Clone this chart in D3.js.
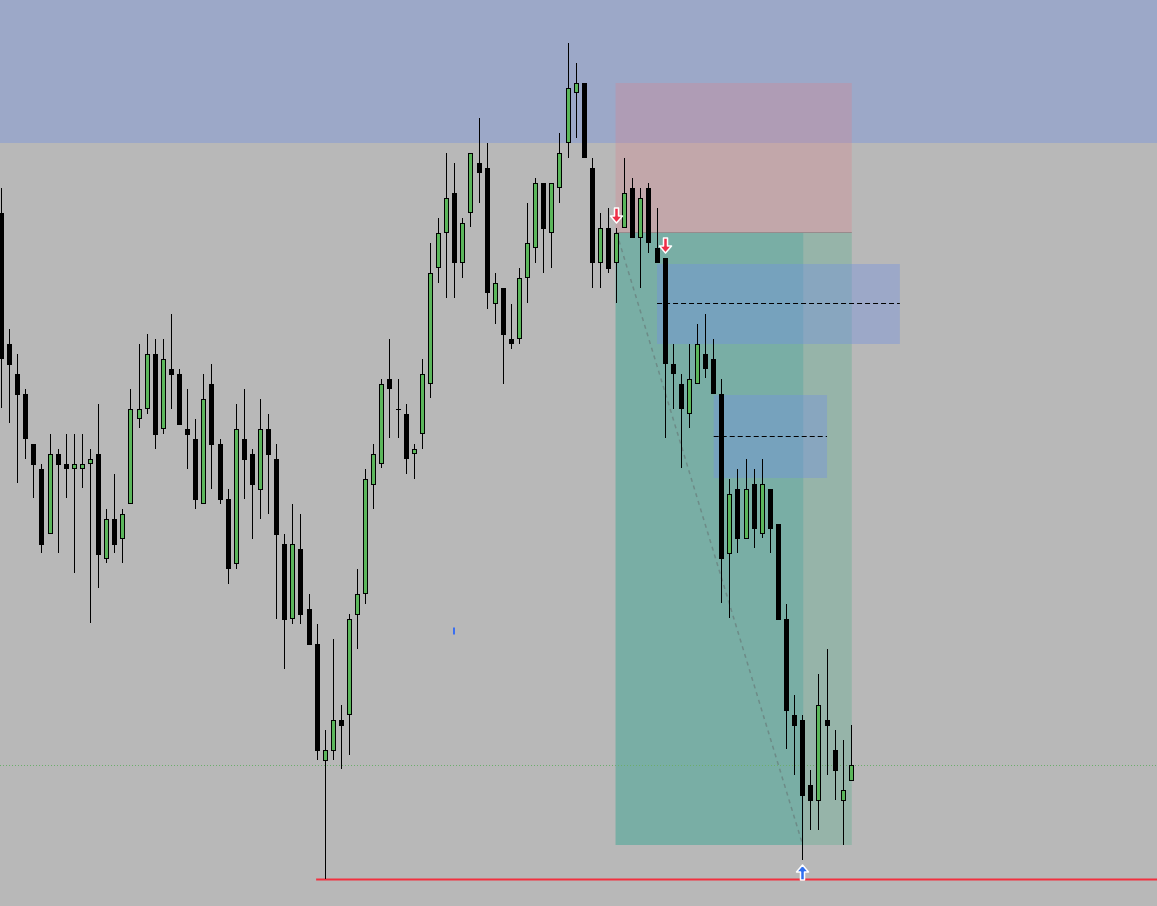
<!DOCTYPE html>
<html>
<head>
<meta charset="utf-8">
<script src="https://cdn.jsdelivr.net/npm/d3@7"></script>
<style>
  body { margin: 0; background: #b8b8b8; overflow: hidden; }
</style>
</head>
<body>
<div id="chart"><svg></svg></div>
<script>

// candle prices (arbitrary points)
var opens = [787,656,626,606,556,531,466,546,536,531,531,536,546,441,481,461,496,581,591,646,
  571,631,626,571,561,496,616,556,501,436,561,546,510,571,541,456,381,451,391,356,
  239,249,280,285,385,406,515,536,621,591,586,546,566,616,732,767,807,737,787,837,
  832,696,712,661,661,722,752,817,767,812,857,907,917,832,737,772,737,772,812,762,
  812,752,742,636,616,586,616,646,641,606,446,511,461,516,466,511,476,381,285,280,
  215,199,280,250,199,219];
var highs = [812,671,646,611,556,536,566,551,566,566,566,551,596,491,526,491,611,656,666,661,
  661,686,631,611,581,626,636,561,511,596,611,551,601,586,556,466,496,486,406,376,
  270,361,295,386,431,531,556,621,661,621,596,556,641,757,782,847,837,782,847,882,
  857,727,712,696,732,797,822,817,817,867,957,937,917,842,787,792,772,842,822,812,
  817,792,742,656,626,656,676,686,661,621,521,531,541,531,541,511,476,396,305,285,
  230,326,351,270,260,275];
var lows = [592,577,517,541,502,447,466,447,502,427,512,377,412,437,447,437,496,572,586,551,
  566,591,575,531,491,496,511,496,416,431,501,461,481,486,381,331,376,376,355,240,
  121,240,231,245,351,396,491,532,562,562,526,521,551,602,717,702,702,722,773,797,
  691,676,616,651,656,697,737,727,732,797,842,862,842,712,712,727,697,772,762,712,
  747,737,562,591,532,572,616,622,606,397,382,447,461,452,462,447,380,251,225,140,
  170,170,225,200,155,219];
var closes = [641,635,605,561,535,455,546,535,531,536,536,541,445,481,455,486,591,591,646,565,
  641,625,575,565,500,601,555,500,431,571,540,515,571,545,465,380,456,385,355,249,
  250,280,274,381,406,521,546,616,611,591,541,551,626,727,767,802,737,777,847,827,
  707,717,665,656,722,757,817,771,817,847,912,917,842,737,772,731,767,807,762,802,
  757,737,636,626,591,621,656,631,606,441,506,461,511,471,516,471,380,289,274,204,
  199,295,274,229,210,235];

// trade overlay levels (same price points) and bar indexes
var upperZone = [857, 1000];
var stopZone = { from: 76, to: 105, top: 917, bottom: 767 };
var targetZone = { from: 76, to: 105, top: 767, bottom: 155 };
var targetRun = { from: 99, to: 105 };
var gapZones = [
  { from: 81, to: 111, top: 736, bottom: 656, mid: 697 },
  { from: 88, to: 102, top: 605, bottom: 522, mid: 564 }
];
var tradePath = [[76, 767], [99, 155]];
var lastPrice = 235;
var lowLine = { from: 39, price: 121 };
var sellSignals = [76, 82];
var buySignals = [99];
var blueMark = { bar: 56, price: 369 };

var width = 1157,
  height = 906,
  greenFill = "#5bb65b";

var data = opens.map(function(o, i) {
  return { i: i, open: o, high: highs[i], low: lows[i], close: closes[i] };
});

var x = d3.scaleLinear().domain([0, 105]).range([1.5, 851.3]);
var y = d3.scaleLinear().domain([94, 1000]).range([height, 0]);

var svg = d3.select("#chart svg").attr("width", width).attr("height", height);

svg.append("rect")
  .attr("width", width).attr("height", height)
  .attr("fill", "#b8b8b8");

// upper supply band
svg.append("rect")
  .attr("x", 0).attr("y", y(upperZone[1]))
  .attr("width", width).attr("height", y(upperZone[0]) - y(upperZone[1]))
  .attr("fill", "#9ca8c8");

// position boxes
svg.append("rect")
  .attr("x", x(stopZone.from) - 1).attr("y", y(stopZone.top))
  .attr("width", x(stopZone.to) - x(stopZone.from) + 1.5)
  .attr("height", y(stopZone.bottom) - y(stopZone.top))
  .attr("fill", "rgba(220,130,140,0.3)");

svg.append("rect")
  .attr("x", x(targetZone.from) - 1).attr("y", y(targetZone.top))
  .attr("width", x(targetZone.to) - x(targetZone.from) + 1.5)
  .attr("height", y(targetZone.bottom) - y(targetZone.top))
  .attr("fill", "rgba(74,171,137,0.3)");

svg.append("rect")
  .attr("x", x(targetZone.from) - 1).attr("y", y(targetZone.top))
  .attr("width", x(targetRun.from) - x(targetZone.from) + 1.5)
  .attr("height", y(targetZone.bottom) - y(targetZone.top))
  .attr("fill", "rgba(68,163,159,0.35)");

svg.append("line")
  .attr("x1", x(stopZone.from) - 1).attr("x2", x(stopZone.to) + 0.5)
  .attr("y1", y(stopZone.bottom) - 0.5).attr("y2", y(stopZone.bottom) - 0.5)
  .attr("stroke", "rgba(110,110,110,0.5)");

// blue imbalance zones
gapZones.forEach(function(z) {
  svg.append("rect")
    .attr("x", x(z.from)).attr("y", y(z.top))
    .attr("width", x(z.to) - x(z.from))
    .attr("height", y(z.bottom) - y(z.top))
    .attr("fill", "rgba(114,144,224,0.4)");
  svg.append("line")
    .attr("x1", x(z.from)).attr("x2", x(z.to))
    .attr("y1", Math.round(y(z.mid)) + 0.5).attr("y2", Math.round(y(z.mid)) + 0.5)
    .attr("stroke", "#000").attr("stroke-dasharray", "5,3");
});

// trade line
svg.append("line")
  .attr("x1", x(tradePath[0][0])).attr("y1", y(tradePath[0][1]))
  .attr("x2", x(tradePath[1][0])).attr("y2", y(tradePath[1][1]))
  .attr("stroke", "rgba(100,112,112,0.55)")
  .attr("stroke-width", 1.5)
  .attr("stroke-dasharray", "4,4");

// last price dotted line
svg.append("line")
  .attr("x1", 0).attr("x2", width)
  .attr("y1", Math.round(y(lastPrice)) + 0.5).attr("y2", Math.round(y(lastPrice)) + 0.5)
  .attr("stroke", "#6cae6c").attr("stroke-dasharray", "1,2");

// low line
svg.append("line")
  .attr("x1", x(lowLine.from) - 1).attr("x2", width)
  .attr("y1", y(lowLine.price) + 0.5).attr("y2", y(lowLine.price) + 0.5)
  .attr("stroke", "#f2303f").attr("stroke-width", 2);

// candles
var candle = svg.selectAll("g.candle")
  .data(data)
  .enter()
  .append("g")
  .attr("class", "candle");

function px(d) {
  return Math.floor(x(d.i));
}

candle.append("line")
  .attr("x1", function(d) { return px(d) + 0.5; })
  .attr("x2", function(d) { return px(d) + 0.5; })
  .attr("y1", function(d) { return y(d.high); })
  .attr("y2", function(d) { return y(d.low); })
  .attr("stroke", "#000");

candle.append("rect")
  .attr("x", function(d) { return d.close > d.open ? px(d) - 1.5 : px(d) - 2; })
  .attr("width", function(d) { return d.close > d.open ? 4 : 5; })
  .attr("y", function(d) {
    var t = y(Math.max(d.open, d.close));
    return d.close > d.open ? t + 0.5 : t;
  })
  .attr("height", function(d) {
    var h = Math.abs(y(d.open) - y(d.close));
    if (d.close > d.open) return Math.max(h - 1, 1);
    return Math.max(h, 1);
  })
  .attr("fill", function(d) { return d.close > d.open ? greenFill : "#000"; })
  .attr("stroke", function(d) { return d.close > d.open ? "#000" : "none"; })
  .attr("stroke-width", 1);

// signal arrows
function arrow(cx, tipY, dir, color) {
  // dir = 1 points down, -1 points up
  var s = dir;
  var p = [
    [cx - 2, tipY - s * 15],
    [cx + 2, tipY - s * 15],
    [cx + 2, tipY - s * 7],
    [cx + 6, tipY - s * 7],
    [cx, tipY],
    [cx - 6, tipY - s * 7],
    [cx - 2, tipY - s * 7]
  ];
  svg.append("path")
    .attr("d", "M" + p.join("L") + "Z")
    .attr("fill", color)
    .attr("stroke", "#fff")
    .attr("stroke-width", 1.5)
    .attr("stroke-linejoin", "round");
}

sellSignals.forEach(function(i) {
  arrow(px(data[i]) + 0.5, y(data[i].high) - 5, 1, "#ee2f48");
});
buySignals.forEach(function(i) {
  arrow(px(data[i]) + 0.5, y(data[i].low) + 5, -1, "#2f6ff0");
});

svg.append("rect")
  .attr("x", Math.floor(x(blueMark.bar)) - 1)
  .attr("y", y(blueMark.price) - 3.5)
  .attr("width", 2).attr("height", 7)
  .attr("fill", "#3a6ff0");

</script>
</body>
</html>
